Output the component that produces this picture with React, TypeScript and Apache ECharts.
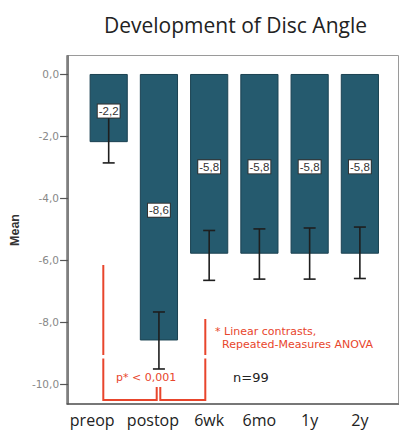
import React, { useEffect, useRef } from "react";
import * as echarts from "echarts";

// Time points and mean disc angle per time point
const categories = ["preop", "postop", "6wk", "6mo", "1y", "2y"];
const means = [-2.2, -8.6, -5.8, -5.8, -5.8, -5.8];
// Error bar extents (upper / lower whisker)
const errUpper = [-1.4, -7.68, -5.05, -5.0, -4.97, -4.94];
const errLower = [-2.87, -9.52, -6.66, -6.62, -6.62, -6.6];
// Labelled ticks on the value axis
const yTicks = [0, -2, -4, -6, -8, -10];

const fmt = (v: number) => v.toFixed(1).replace(".", ",");

const RED = "#e8452c";

// the two leftmost category names sit a little left of their ticks
const labelPadRight: Record<string, number> = { preop: 33, postop: 12 };

export default function App() {
  const ref = useRef<HTMLDivElement>(null);

  useEffect(() => {
    if (!ref.current) return;
    const chart = echarts.init(ref.current, null, { renderer: "svg" });

    const errData = categories.map((_, i) => [i, errLower[i], errUpper[i]]);
    const labelData = categories.map((_, i) => [i, means[i]]);
    const xData = categories.map((c) => ({
      value: c,
      textStyle: { padding: [0, labelPadRight[c] || 0, 0, 0] },
    }));

    chart.setOption({
      animation: false,
      backgroundColor: "#ffffff",
      title: {
        text: "Development of Disc Angle",
        left: 99,
        top: 9,
        textStyle: {
          fontFamily: "Open Sans",
          fontSize: 21,
          fontWeight: "normal",
          color: "#222",
        },
      },
      grid: { left: 82, top: 56, width: 303, height: 348 },
      xAxis: {
        type: "category",
        data: xData,
        axisLine: { show: false },
        axisTick: {
          show: true,
          alignWithLabel: true,
          length: 8,
          lineStyle: { color: "#555", width: 1.5 },
        },
        axisLabel: {
          interval: 0,
          margin: 8,
          fontFamily: "Open Sans",
          fontSize: 16,
          color: "#222",
        },
      },
      yAxis: {
        type: "value",
        min: -10.65,
        max: 0.58,
        offset: 15.5,
        name: "Mean",
        nameLocation: "middle",
        nameRotate: 90,
        nameGap: 43,
        nameTextStyle: {
          fontFamily: "Liberation Sans",
          fontWeight: "bold",
          fontSize: 12.5,
          color: "#333",
        },
        splitLine: { show: false },
        axisLine: { show: true, lineStyle: { color: "#555", width: 1.5 } },
        axisTick: {
          show: true,
          length: 8,
          customValues: yTicks,
          lineStyle: { color: "#555", width: 1.2 },
        },
        axisLabel: {
          customValues: yTicks,
          margin: 9,
          formatter: (v: number) => fmt(v),
          fontFamily: "DejaVu Sans",
          fontSize: 10.5,
          color: "#888",
        },
      },
      series: [
        {
          type: "bar",
          data: means,
          barWidth: "76%",
          z: 2,
          itemStyle: { color: "#255a6e", borderColor: "#1b4252", borderWidth: 1 },
        },
        {
          // error bars, drawn above the bars
          type: "custom",
          data: errData,
          z: 3,
          renderItem: (params: any, api: any) => {
            const x = api.value(0);
            const lo = api.coord([x, api.value(1)]);
            const hi = api.coord([x, api.value(2)]);
            const half = 6;
            const style = { stroke: "#1e1e1e", lineWidth: 1.6 };
            return {
              type: "group",
              children: [
                { type: "line", shape: { x1: lo[0], y1: lo[1], x2: hi[0], y2: hi[1] }, style },
                { type: "line", shape: { x1: lo[0] - half, y1: lo[1], x2: lo[0] + half, y2: lo[1] }, style },
                { type: "line", shape: { x1: hi[0] - half, y1: hi[1], x2: hi[0] + half, y2: hi[1] }, style },
              ],
            };
          },
        },
        {
          // boxed value labels at the middle of each bar, above the error bars
          type: "custom",
          data: labelData,
          z: 4,
          renderItem: (params: any, api: any) => {
            const x = api.value(0);
            const v = api.value(1);
            const top = api.coord([x, 0]);
            const bot = api.coord([x, v]);
            return {
              type: "text",
              x: top[0],
              y: (top[1] + bot[1]) / 2 + 3,
              style: {
                text: fmt(v),
                align: "center",
                verticalAlign: "middle",
                fontFamily: "Liberation Sans",
                fontSize: 11.5,
                fill: "#333",
                backgroundColor: "#ffffff",
                borderColor: "#333",
                borderWidth: 1,
                padding: [1, 1, 0, 1],
              },
            };
          },
        },
      ],
      graphic: [
        // plot frame
        {
          type: "rect",
          shape: { x: 66.5, y: 55.5, width: 332, height: 348.5 },
          style: { fill: "none", stroke: "#9a9a9a", lineWidth: 1 },
          z: 0,
        },
        {
          type: "line",
          shape: { x1: 66.5, y1: 404, x2: 399, y2: 404 },
          style: { stroke: "#777", lineWidth: 2 },
        },
        // significance bracket
        {
          type: "polyline",
          shape: { points: [[103.3, 265], [103.3, 355]] },
          style: { stroke: RED, lineWidth: 2, fill: "none" },
        },
        {
          type: "polyline",
          shape: { points: [[103.3, 358.5], [103.3, 400], [156.7, 400], [156.7, 387]] },
          style: { stroke: RED, lineWidth: 2, fill: "none" },
        },
        {
          type: "polyline",
          shape: { points: [[160.3, 387], [160.3, 400], [205.3, 400], [205.3, 358.5]] },
          style: { stroke: RED, lineWidth: 2, fill: "none" },
        },
        {
          type: "polyline",
          shape: { points: [[205.3, 355], [205.3, 319]] },
          style: { stroke: RED, lineWidth: 2, fill: "none" },
        },
        {
          type: "text",
          x: 116,
          y: 377,
          style: {
            text: "p* < 0,001",
            fontFamily: "DejaVu Sans",
            fontSize: 11,
            fill: RED,
            textVerticalAlign: "middle",
          },
        },
        {
          type: "text",
          x: 233,
          y: 377,
          style: {
            text: "n=99",
            fontFamily: "DejaVu Sans",
            fontSize: 13,
            fill: "#222",
            textVerticalAlign: "middle",
          },
        },
        {
          type: "text",
          x: 215,
          y: 331,
          style: {
            text: "* Linear contrasts,",
            fontFamily: "DejaVu Sans",
            fontSize: 11,
            fill: RED,
            textVerticalAlign: "middle",
          },
        },
        {
          type: "text",
          x: 222,
          y: 344.5,
          style: {
            text: "Repeated-Measures ANOVA",
            fontFamily: "DejaVu Sans",
            fontSize: 11,
            fill: RED,
            textVerticalAlign: "middle",
          },
        },
      ],
    });

    return () => chart.dispose();
  }, []);

  return (
    <div
      ref={ref}
      style={{ position: "fixed", left: 0, top: 0, width: 402, height: 432 }}
    />
  );
}
